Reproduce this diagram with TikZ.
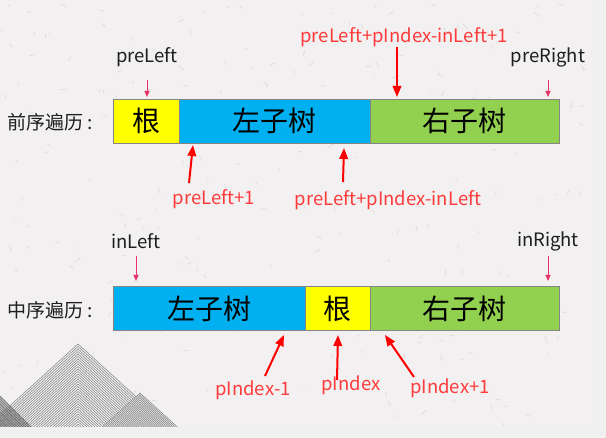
\documentclass[tikz,border=0pt]{standalone}
\usepackage{fontspec}
\setmainfont{Noto Sans CJK SC}
\usetikzlibrary{arrows.meta}
\definecolor{bgpaper}{HTML}{F2F0F0}
\definecolor{bgplain}{HTML}{F0F0F0}
\definecolor{fleck}{HTML}{D9D5D5}
\definecolor{rootyel}{HTML}{FFFF00}
\definecolor{leftblue}{HTML}{00B0F0}
\definecolor{rightgreen}{HTML}{92D050}
\definecolor{cellborder}{HTML}{858585}
\definecolor{pinkarrow}{HTML}{E8336A}
\definecolor{redlabel}{HTML}{FF3B3B}
\definecolor{redarrow}{HTML}{FF0000}
\definecolor{inktext}{HTML}{1E1E1E}
\definecolor{mountain}{HTML}{7E7E7E}
\begin{document}
\begin{tikzpicture}[x=1pt,y=-1pt,
  cell/.style={draw=cellborder,line width=0.8pt,minimum height=44pt,inner sep=0pt,anchor=west,
    font=\fontsize{28}{28}\selectfont,text=black},
  rowlabel/.style={anchor=west,inner sep=0pt,font=\fontsize{19}{19}\selectfont,text=inktext},
  blacklabel/.style={inner sep=0pt,font=\fontsize{18.5}{18.5}\selectfont,text=inktext},
  redlab/.style={inner sep=0pt,font=\fontsize{18.5}{18.5}\selectfont,text=redlabel},
  thinarrow/.style={draw=pinkarrow,line width=1pt,-{Triangle[length=6pt,width=5pt]}},
  thickarrow/.style={draw=redarrow,line width=2pt,-{Triangle[length=11pt,width=8.5pt]}},
  mline/.style={draw=mountain,line width=0.5pt}
]
\useasboundingbox (0,0) rectangle (606,438);
% background
\fill[bgplain] (0,0) rectangle (606,438);
\fill[bgpaper] (0,0) rectangle (592,427);
\pgfmathsetseed{11}
\foreach \i in {1,...,260}{
  \pgfmathsetmacro{\fx}{rnd*585+3}
  \pgfmathsetmacro{\fy}{rnd*420+3}
  \pgfmathsetmacro{\fa}{rnd*180}
  \pgfmathsetmacro{\fl}{rnd*5+2}
  \draw[fleck,line width=0.5pt] (\fx,\fy) -- ++(\fa:\fl);
}
% mountains
\begin{scope}
\clip (0,0) rectangle (592,427);
\foreach \k in {0,...,33}{
  \pgfmathsetmacro{\ay}{344+2.5*\k}
  \pgfmathsetmacro{\hw}{(427-\ay)*1.1}
  \draw[mline] (78-\hw,427) -- (78,\ay) -- (78+\hw,427);
}
\fill[bgpaper] (140,393) -- (140-37,427) -- (140+37,427) -- cycle;
\foreach \k in {0,...,18}{
  \pgfmathsetmacro{\ay}{393+1.8*\k}
  \pgfmathsetmacro{\hw}{(427-\ay)*1.1}
  \draw[mline] (140-\hw,427) -- (140,\ay) -- (140+\hw,427);
}
\foreach \k in {0,...,22}{
  \pgfmathsetmacro{\ay}{388+1.6*\k}
  \pgfmathsetmacro{\hw}{(427-\ay)*1.0}
  \draw[mline,draw=mountain!80!black] (-8-\hw,427) -- (-8,\ay) -- (-8+\hw,427);
}
\end{scope}
% row labels
\node[rowlabel] (prelab) at (7,122) {前序遍历\kern4pt:};
\node[rowlabel] (inlab) at (7,310) {中序遍历\kern4pt:};
% pre-order bar
\node[cell,fill=rootyel,minimum width=66pt] (preroot) at (113,121) {根};
\node[cell,fill=leftblue,minimum width=191pt] (preleft) at (179,121) {左子树};
\node[cell,fill=rightgreen,minimum width=189pt] (preright) at (370,121) {右子树};
% in-order bar
\node[cell,fill=leftblue,minimum width=192pt] (inleft) at (113,308.5) {左子树};
\node[cell,fill=rootyel,minimum width=65pt] (inroot) at (305,308.5) {根};
\node[cell,fill=rightgreen,minimum width=189pt] (inright) at (370,308.5) {右子树};
% black labels
\node[blacklabel] (lpreLeft) at (147,57) {preLeft};
\node[blacklabel] (lpreRight) at (548,57) {preRight};
\node[blacklabel] (linLeft) at (136,241) {inLeft};
\node[blacklabel] (linRight) at (548,241) {inRight};
% red labels
\node[redlab] (lsplit) at (404,37) {preLeft+pIndex-inLeft+1};
\node[redlab] (lpre1) at (214,199) {preLeft+1};
\node[redlab] (lpreend) at (388,200) {preLeft+pIndex-inLeft};
\node[redlab] (lpm1) at (253,390) {pIndex-1};
\node[redlab] (lp) at (351,385) {pIndex};
\node[redlab] (lpp1) at (450,388) {pIndex+1};
% arrow endpoints
\coordinate (a1s) at (147,80); \coordinate (a1e) at (147,97);
\coordinate (a2s) at (548,80); \coordinate (a2e) at (548,97);
\coordinate (a3s) at (136,256); \coordinate (a3e) at (136,281);
\coordinate (a4s) at (548,256); \coordinate (a4e) at (548,281);
\coordinate (b1s) at (397,47); \coordinate (b1e) at (397,97);
\coordinate (b2s) at (189,183); \coordinate (b2e) at (193,145);
\coordinate (b3s) at (343,182); \coordinate (b3e) at (344,148);
\coordinate (b4s) at (265,376); \coordinate (b4e) at (284,335);
\coordinate (b5s) at (337,380); \coordinate (b5e) at (338,335);
\coordinate (b6s) at (414,377); \coordinate (b6e) at (385,335);
\draw[thinarrow] (a1s) -- (a1e);
\draw[thinarrow] (a2s) -- (a2e);
\draw[thinarrow] (a3s) -- (a3e);
\draw[thinarrow] (a4s) -- (a4e);
\draw[thickarrow] (b1s) -- (b1e);
\draw[thickarrow] (b2s) -- (b2e);
\draw[thickarrow] (b3s) -- (b3e);
\draw[thickarrow] (b4s) -- (b4e);
\draw[thickarrow] (b5s) -- (b5e);
\draw[thickarrow] (b6s) -- (b6e);
\end{tikzpicture}
\end{document}
